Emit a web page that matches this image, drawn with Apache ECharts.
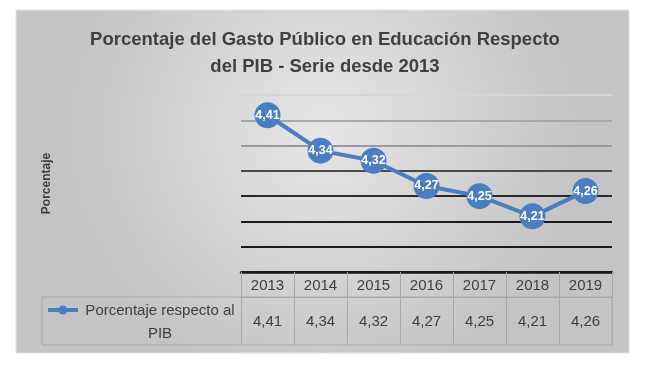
<!DOCTYPE html>
<html>
<head>
<meta charset="utf-8">
<script src="https://cdn.jsdelivr.net/npm/echarts@6/dist/echarts.min.js"></script>
<style>html,body{margin:0;padding:0;background:#fff;}#c{width:650px;height:368px;}</style>
</head>
<body>
<div id="c"></div>
<script>
var titleText = 'Porcentaje del Gasto Público en Educación Respecto\ndel PIB - Serie desde 2013';
var yAxisName = 'Porcentaje';
var seriesName = 'Porcentaje respecto al\nPIB';
var years = ['2013', '2014', '2015', '2016', '2017', '2018', '2019'];
var values = [4.41, 4.34, 4.32, 4.27, 4.25, 4.21, 4.26];

function fmt(v) { return v.toFixed(2).replace('.', ','); }
var valueLabels = values.map(fmt);

var blue = '#4a7ec0';
var txt = '#404040';
var font = 'Liberation Sans';
var border = '#a8a8a8';

var chart = echarts.init(document.getElementById('c'), null, {renderer: 'canvas'});
chart.setOption({
  animation: false,
  backgroundColor: '#ffffff',
  title: {
    text: titleText,
    left: 'center',
    top: 21,
    padding: 5,
    textStyle: {fontFamily: font, fontSize: 18.5, fontWeight: 'bold', color: txt, lineHeight: 27, align: 'center'}
  },
  grid: {left: 241, right: 38, top: 95, bottom: 96},
  xAxis: [{
    type: 'category',
    data: years,
    position: 'bottom',
    boundaryGap: true,
    axisLine: {show: true, lineStyle: {color: '#1a1a1a', width: 2.5}},
    axisTick: {show: true, interval: 0, length: 25, lineStyle: {color: border, width: 1}},
    axisLabel: {interval: 0, margin: 6, fontFamily: font, fontSize: 15, color: txt}
  }, {
    type: 'category',
    data: valueLabels,
    position: 'bottom',
    offset: 25,
    boundaryGap: true,
    axisLine: {show: true, lineStyle: {color: border, width: 1}},
    axisTick: {show: true, interval: 0, length: 48, lineStyle: {color: border, width: 1}},
    axisLabel: {interval: 0, margin: 17, fontFamily: font, fontSize: 15, color: txt}
  }],
  yAxis: {
    type: 'value',
    min: 4.10,
    max: 4.45,
    interval: 0.05,
    name: yAxisName,
    nameLocation: 'middle',
    nameRotate: 90,
    nameGap: 188,
    nameTextStyle: {fontFamily: font, fontSize: 12, fontWeight: 'bold', color: txt},
    axisLine: {show: false},
    axisTick: {show: false},
    axisLabel: {show: false},
    splitLine: {show: true, lineStyle: {width: 2, color: ['#1a1a1a', '#1a1a1a', '#1a1a1a', '#2a2a2a', '#4a4a4a', '#9a9a9a', '#a8a8a8', '#d6d6d6']}}
  },
  series: [{
    type: 'line',
    name: seriesName,
    data: values,
    xAxisIndex: 0,
    symbol: 'circle',
    symbolSize: 26,
    lineStyle: {color: blue, width: 4},
    itemStyle: {color: blue},
    label: {
      show: true,
      position: 'inside',
      formatter: function (p) { return fmt(p.value); },
      fontFamily: font,
      fontSize: 12.5,
      fontWeight: 'bold',
      color: '#ffffff'
    },
    z: 5
  }],
  graphic: [
    {
      type: 'rect', z: -10, silent: true,
      shape: {x: 16, y: 10, width: 613, height: 343},
      style: {
        fill: new echarts.graphic.RadialGradient(0.5, 0.35, 0.75, [
          {offset: 0, color: '#e6e6e6'},
          {offset: 1, color: '#c4c4c4'}
        ]),
        stroke: '#e2e2e2', lineWidth: 1
      }
    },
    {
      type: 'rect', z: -5, silent: true,
      shape: {x: 42, y: 297, width: 570, height: 48},
      style: {fill: 'none', stroke: border, lineWidth: 1}
    },
    {
      type: 'line', silent: true,
      shape: {x1: 48, y1: 310, x2: 78, y2: 310},
      style: {stroke: blue, lineWidth: 4}
    },
    {
      type: 'circle', silent: true,
      shape: {cx: 63, cy: 310, r: 4.5},
      style: {fill: blue}
    },
    {
      type: 'text', silent: true,
      x: 160, y: 310,
      style: {text: seriesName, fontFamily: font, fontSize: 15, fill: txt, align: 'center', verticalAlign: 'top', lineHeight: 23, y: -11}
    }
  ]
});
</script>
</body>
</html>
